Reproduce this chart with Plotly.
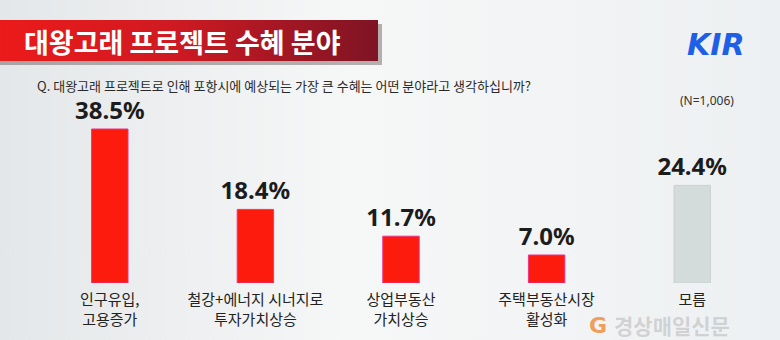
import plotly.graph_objects as go

categories = ["인구유입,<br>고용증가", "철강+에너지 시너지로<br>투자가치상승", "상업부동산<br>가치상승", "주택부동산시장<br>활성화", "모름"]
values = [38.5, 18.4, 11.7, 7.0, 24.4]
value_labels = ["38.5%", "18.4%", "11.7%", "7.0%", "24.4%"]
bar_colors = ["#fc1b0d", "#fc1b0d", "#fc1b0d", "#fc1b0d", "#d4dbdb"]
line_colors = ["#e8338a", "#e8338a", "#e8338a", "#e8338a", "#c9d0d0"]

title_text = "대왕고래 프로젝트 수혜 분야"
question_text = "Q. 대왕고래 프로젝트로 인해 포항시에 예상되는 가장 큰 수혜는 어떤 분야라고 생각하십니까?"
n_text = "(N=1,006)"

W, H = 780, 340
KR = "Noto Sans CJK KR"

fig = go.Figure()

# decorative layer (pixel coordinates) on x/y
fig.add_trace(go.Scatter(
    x=[0, W, W, 0, 0], y=[0, 0, H, H, 0], mode="lines", line=dict(width=0),
    fill="toself", fillgradient=dict(type="horizontal",
        colorscale=[[0, "#e4e7e9"], [0.45, "#f6f7f7"], [1, "#edf0f2"]]),
    hoverinfo="skip", showlegend=False, xaxis="x", yaxis="y"))
# banner shadow
fig.add_trace(go.Scatter(
    x=[0, 382, 382, 0, 0], y=[24, 24, 65, 65, 24], mode="lines", line=dict(width=0),
    fill="toself", fillcolor="rgba(60,40,40,0.35)",
    hoverinfo="skip", showlegend=False, xaxis="x", yaxis="y"))
# banner
fig.add_trace(go.Scatter(
    x=[0, 378, 378, 0, 0], y=[20, 20, 61, 61, 20], mode="lines", line=dict(width=0),
    fill="toself", fillgradient=dict(type="horizontal",
        colorscale=[[0, "#ec1a1a"], [0.45, "#d01a22"], [1, "#7e1424"]]),
    hoverinfo="skip", showlegend=False, xaxis="x", yaxis="y"))

# bars
fig.add_trace(go.Bar(
    x=categories, y=values, text=value_labels, textposition="outside",
    constraintext="none",
    textfont=dict(family="Noto Sans", size=24, color="#1c1c1c", weight="bold"),
    marker=dict(color=bar_colors, line=dict(color=line_colors, width=1)),
    cliponaxis=False, showlegend=False, hoverinfo="skip",
    xaxis="x2", yaxis="y2"))

fig.update_layout(
    width=W, height=H, margin=dict(l=0, r=0, t=0, b=0),
    paper_bgcolor="#eef0f1", plot_bgcolor="rgba(0,0,0,0)",
    bargap=0.75,
    xaxis=dict(domain=[0, 1], range=[0, W], visible=False, fixedrange=True),
    yaxis=dict(domain=[0, 1], range=[H, 0], visible=False, fixedrange=True),
    xaxis2=dict(domain=[37 / W, 765 / W], anchor="y2", type="category",
                showgrid=False, showline=False, zeroline=False, ticks="",
                ticklabelstandoff=6,
                tickfont=dict(family=KR, size=15, color="#222222")),
    yaxis2=dict(domain=[57 / H, 1], anchor="x2", range=[0, 283 / 4.0],
                visible=False, showgrid=False, zeroline=False),
    shapes=[dict(type="line", xref="x", yref="y", x0=53, x1=742, y0=283, y1=283,
                 line=dict(color="#aeb3b8", width=1.5), layer="below")],
    annotations=[
        dict(text=title_text, xref="x", yref="y", x=22, y=41, xanchor="left", yanchor="middle",
             showarrow=False, font=dict(family=KR, size=27, color="#ffffff", weight="bold")),
        dict(text=question_text, xref="x", yref="y", x=35, y=85, xanchor="left", yanchor="middle",
             showarrow=False, font=dict(family=KR, size=13, color="#2a2a2a")),
        dict(text=n_text, xref="x", yref="y", x=707, y=100, xanchor="center", yanchor="middle",
             showarrow=False, font=dict(family="Noto Sans", size=12, color="#333333")),
        dict(text="<i><b>KIR</b></i>", xref="x", yref="y", x=716, y=44, xanchor="center", yanchor="middle",
             showarrow=False, font=dict(family="DejaVu Sans", size=30, color="#1f5fe8")),
        dict(text="<b>G</b>", xref="x", yref="y", x=598, y=325, xanchor="center", yanchor="middle",
             showarrow=False, font=dict(family="DejaVu Sans", size=22, color="rgba(240,130,40,0.75)")),
        dict(text="<b>경상매일신문</b>", xref="x", yref="y", x=612, y=325, xanchor="left", yanchor="middle",
             showarrow=False, font=dict(family=KR, size=21, color="rgba(170,170,170,0.45)")),
    ],
)

fig.write_html("out.html")
